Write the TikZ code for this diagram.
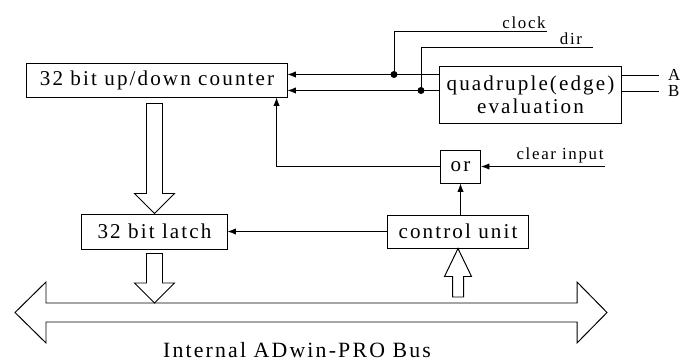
\documentclass[tikz,border=0pt]{standalone}
\usepackage{fontspec}
\setmainfont{Liberation Serif}[LetterSpace=10]
\usepackage{tikz}
\usetikzlibrary{positioning}
\usetikzlibrary{calc}
\usetikzlibrary{arrows.meta}

\tikzset{
  blk/.style={draw,line width=0.7pt,inner sep=1pt,font=\fontsize{15}{17}\selectfont},
  sig/.style={line width=0.6pt,-{Latex[length=6pt,width=4.5pt]}},
  wire/.style={line width=0.6pt},
  fat/.style={line width=0.7pt,line join=miter},
  lbl/.style={inner sep=1pt,font=\fontsize{12}{14}\selectfont},
}

\begin{document}
\begin{tikzpicture}[x=0.025cm,y=-0.025cm]
            \useasboundingbox (0,0) rectangle (682,360);
            % blocks
            \node[blk,minimum width=6.5cm,minimum height=0.85cm] (cnt) at (157,80) {32 bit up/down counter};
            \node[blk,minimum width=4.525cm,minimum height=1.4cm,align=center,
                  font=\fontsize{15}{16.5}\selectfont] (quad) at (530.5,95) {quadruple(edge)\\evaluation};
            \node[blk,minimum width=1.0cm,minimum height=0.825cm] (orb) at (460.5,166.5) {or};
            \node[blk,minimum width=3.5cm,minimum height=0.825cm] (ctrl) at (458,231.5) {control unit};
            \node[blk,minimum width=3.625cm,minimum height=0.875cm] (latch) at (154.5,231.5) {32 bit latch};
            % counter inputs
            \coordinate (q1) at ($(quad.north west)+(0,8)$);
            \coordinate (q2) at ($(quad.north west)+(0,24)$);
            \draw[sig] (q1) -- (q1 -| cnt.east);
            \draw[sig] (q2) -- (q2 -| cnt.east);
            \coordinate (d1) at (394,0);
            \coordinate (d2) at (421,0);
            \fill (q1 -| d1) circle (3.5);
            \fill (q2 -| d2) circle (3.5);
            \coordinate (clk) at (547,31);
            \coordinate (dir) at (593,47);
            \draw[wire] (q1 -| d1) |- (clk);
            \draw[wire] (q2 -| d2) |- (dir);
            \node[lbl,anchor=south] (clklbl) at ($(clk)+(-23,-1)$) {clock};
            \node[lbl,anchor=south] (dirlbl) at ($(dir)+(-22,-1)$) {dir};
            % A/B inputs
            \coordinate (inA) at (659,75);
            \coordinate (inB) at (659,91);
            \draw[wire] (quad.east |- inA) -- (inA);
            \draw[wire] (quad.east |- inB) -- (inB);
            \node[lbl,anchor=west,inner sep=0,right=0.22cm of inA] (A) {A};
            \node[lbl,anchor=west,inner sep=0,right=0.22cm of inB] (B) {B};
            % clear
            \coordinate (clr) at (605,166.5);
            \draw[sig] (clr) -- (orb.east);
            \node[lbl,anchor=south] (clrlbl) at ($(clr)+(-45,-2)$) {clear input};
            \draw[sig] (orb.west) -| ($(cnt.south east)+(-11,0)$);
            \draw[sig] (orb.south |- ctrl.north) -- (orb.south);
            \draw[sig] (ctrl.west) -- (latch.east);
            % bus
            \coordinate (bus) at (311,312.5);
            \coordinate (bustop) at (311,303);
            \draw[fat] (15,312.5) -- (46,282) -- (46,303) -- (577,303) -- (577,282)
              -- (607,312.5) -- (577,343) -- (577,322) -- (46,322) -- (46,343) -- cycle;
            \node[font=\fontsize{15.5}{17}\selectfont,anchor=base] (buslbl) at (297,357) {Internal ADwin-PRO Bus};
            % fat arrows
            \draw[fat] (latch.north) -- ++(20,-20) -- ++(-12,0)
              -- ($(latch.north |- cnt.south)+(8,6)$) -- ++(-16,0)
              -- ($(latch.north)+(-8,-20)$) -- ++(-12,0) -- cycle;
            \draw[fat] (latch.south |- bustop) -- ++(20,-20) -- ++(-12,0)
              -- ($(latch.south)+(8,4)$) -- ++(-16,0)
              -- ($(latch.south |- bustop)+(-8,-20)$) -- ++(-12,0) -- cycle;
            \draw[fat] (ctrl.south) -- ++(13.5,28) -- ++(-8,0)
              -- ($(ctrl.south |- bustop)+(5.5,-6)$) -- ++(-11,0)
              -- ($(ctrl.south)+(-5.5,28)$) -- ++(-8,0) -- cycle;
\end{tikzpicture}
\end{document}
